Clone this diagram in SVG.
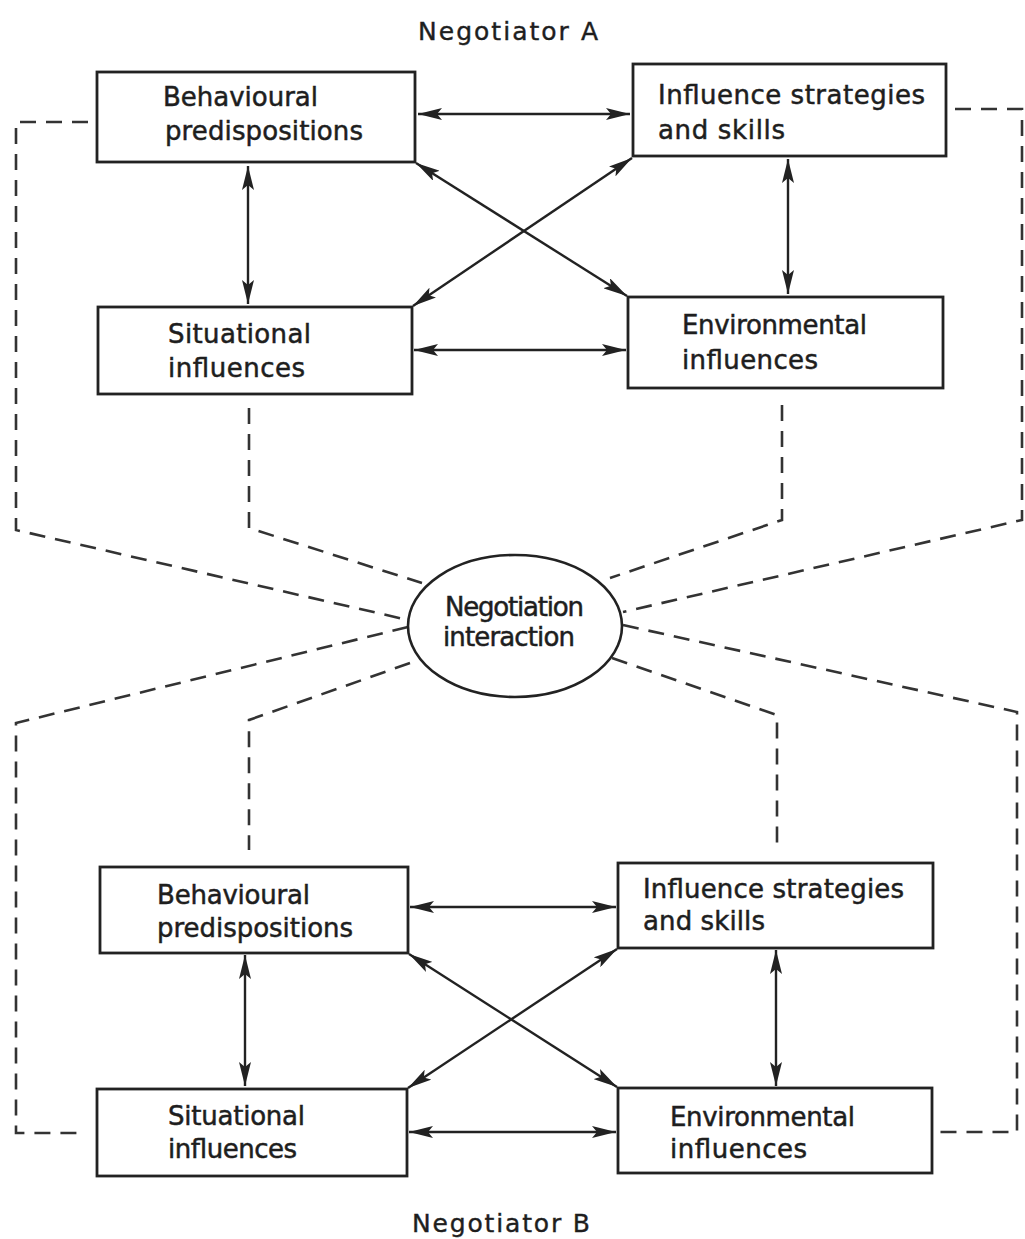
<svg xmlns="http://www.w3.org/2000/svg" width="1025" height="1239" viewBox="0 0 1025 1239">
<style>
.box{fill:#fff;stroke:#222;stroke-width:2.8}
.t{font-family:"DejaVu Sans","Liberation Sans",sans-serif;font-size:26px;fill:#1e1e1e;stroke:#1e1e1e;stroke-width:0.5}
.title{font-family:"DejaVu Sans","Liberation Sans",sans-serif;font-size:25px;fill:#1e1e1e;stroke:#1e1e1e;stroke-width:0.4}
.arr{fill:none;stroke:#222;stroke-width:2.4;marker-start:url(#ah);marker-end:url(#ah)}
.dash{fill:none;stroke:#333;stroke-width:2.6;stroke-dasharray:16 10}
</style>
<defs>
<marker id="ah" viewBox="0 0 24 12" refX="24" refY="6" markerWidth="24" markerHeight="12" markerUnits="userSpaceOnUse" orient="auto-start-reverse">
<path d="M0,0 L24,6 L0,12 L5,6 z" fill="#222"/>
</marker>
</defs>
<rect width="1025" height="1239" fill="#fff"/>
<text class="title" x="418" y="40" textLength="180" lengthAdjust="spacing">Negotiator  A</text>
<text class="title" x="412" y="1232" textLength="178" lengthAdjust="spacing">Negotiator  B</text>

<g id="connectors">
<path class="dash" d="M88,122 H16 V530 L408,620"/>
<path class="dash" d="M249,408 V528 L422,583"/>
<path class="dash" d="M782,405 V520 L610,578"/>
<path class="dash" d="M955,109 H1022 V520 L623,612"/>
<path class="dash" d="M408,627 L16,723 V1133 H86"/>
<path class="dash" d="M410,663 L249,720 V850"/>
<path class="dash" d="M612,658 L777,715 V845"/>
<path class="dash" d="M623,625 L1017,712 V1132 H938"/>
<line class="arr" x1="418" y1="114" x2="630" y2="114"/>
<line class="arr" x1="248" y1="166" x2="248" y2="304"/>
<line class="arr" x1="788" y1="159" x2="788" y2="294"/>
<line class="arr" x1="414" y1="350" x2="626" y2="350"/>
<line class="arr" x1="416" y1="163" x2="627" y2="296"/>
<line class="arr" x1="632" y1="158" x2="413" y2="306"/>
<line class="arr" x1="410" y1="907" x2="616" y2="907"/>
<line class="arr" x1="245" y1="955" x2="245" y2="1086"/>
<line class="arr" x1="776" y1="950" x2="776" y2="1086"/>
<line class="arr" x1="409" y1="1132" x2="616" y2="1132"/>
<line class="arr" x1="409" y1="954" x2="617" y2="1087"/>
<line class="arr" x1="617" y1="949" x2="408" y2="1088"/>
</g>

<g id="a-behav">
<rect class="box" x="97" y="72" width="318" height="90"/>
<text class="t" x="163" y="106" textLength="155" lengthAdjust="spacing">Behavioural</text>
<text class="t" x="165" y="140" textLength="198" lengthAdjust="spacing">predispositions</text>
</g>
<g id="a-influence">
<rect class="box" x="633" y="64" width="313" height="92"/>
<text class="t" x="658" y="104" textLength="267" lengthAdjust="spacing">Influence strategies</text>
<text class="t" x="658" y="139" textLength="127" lengthAdjust="spacing">and skills</text>
</g>
<g id="a-situational">
<rect class="box" x="98" y="307" width="314" height="87"/>
<text class="t" x="168" y="343" textLength="143" lengthAdjust="spacing">Situational</text>
<text class="t" x="168" y="377" textLength="137" lengthAdjust="spacing">influences</text>
</g>
<g id="a-environmental">
<rect class="box" x="628" y="297" width="315" height="91"/>
<text class="t" x="682" y="334" textLength="185" lengthAdjust="spacing">Environmental</text>
<text class="t" x="682" y="369" textLength="136" lengthAdjust="spacing">influences</text>
</g>

<g id="interaction">
<ellipse cx="515" cy="626" rx="107" ry="71" fill="#fff" stroke="#222" stroke-width="2.6"/>
<text class="t" x="445" y="616" textLength="139" lengthAdjust="spacing">Negotiation</text>
<text class="t" x="443" y="646" textLength="132" lengthAdjust="spacing">interaction</text>
</g>

<g id="b-behav">
<rect class="box" x="100" y="867" width="308" height="86"/>
<text class="t" x="157" y="904" textLength="153" lengthAdjust="spacing">Behavioural</text>
<text class="t" x="157" y="937" textLength="196" lengthAdjust="spacing">predispositions</text>
</g>
<g id="b-influence">
<rect class="box" x="618" y="863" width="315" height="85"/>
<text class="t" x="643" y="898" textLength="261" lengthAdjust="spacing">Influence strategies</text>
<text class="t" x="643" y="930" textLength="122" lengthAdjust="spacing">and skills</text>
</g>
<g id="b-situational">
<rect class="box" x="97" y="1089" width="310" height="87"/>
<text class="t" x="168" y="1125" textLength="137" lengthAdjust="spacing">Situational</text>
<text class="t" x="168" y="1158" textLength="129" lengthAdjust="spacing">influences</text>
</g>
<g id="b-environmental">
<rect class="box" x="618" y="1088" width="314" height="85"/>
<text class="t" x="670" y="1126" textLength="185" lengthAdjust="spacing">Environmental</text>
<text class="t" x="670" y="1158" textLength="137" lengthAdjust="spacing">influences</text>
</g>
</svg>
